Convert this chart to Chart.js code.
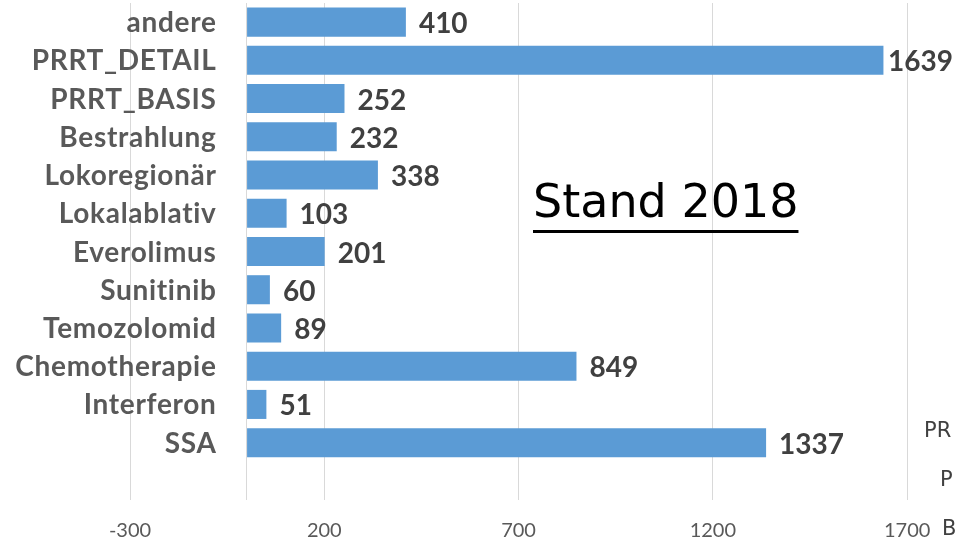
<!DOCTYPE html>
<html>
<head>
<meta charset="utf-8">
<script src="https://cdn.jsdelivr.net/npm/chart.js@4.4.1/dist/chart.umd.min.js"></script>
<style>
  html, body { margin: 0; padding: 0; background: #fff; }
  #wrap { position: relative; width: 955px; height: 543px; overflow: hidden; }
  .note { position: absolute; font-family: "DejaVu Sans", sans-serif; color: #404040; white-space: nowrap; }
  #stand { left: 533px; top: 174px; font-size: 46px; color: #000;
    text-decoration: underline; text-decoration-thickness: 3px; text-underline-offset: 13px; }
</style>
</head>
<body>
<div id="wrap">
  <canvas id="myChart" width="955" height="543"></canvas>
  <div class="note" id="stand">Stand 2018</div>
</div>
<script>
// categories from top to bottom, last slot is an empty row
const categories = ['andere', 'PRRT_DETAIL', 'PRRT_BASIS', 'Bestrahlung', 'Lokoregionär', 'Lokalablativ',
    'Everolimus', 'Sunitinib', 'Temozolomid', 'Chemotherapie', 'Interferon', 'SSA', '']
const counts = [410, 1639, 252, 232, 338, 103, 201, 60, 89, 849, 51, 1337, null]
const xTicks = [-300, 0, 200, 700, 1200, 1700]
const sideLabels = ['PR', 'P', 'B']

// category names sit left of the zero line (like Excel), values right of the bars
const barText = {
    id: 'barText',
    afterDatasetsDraw(chart) {
        const ctx = chart.ctx
        const yScale = chart.scales.y
        const x0 = chart.scales.x.getPixelForValue(0)
        const meta = chart.getDatasetMeta(0)
        ctx.save()
        ctx.textBaseline = 'middle'

        ctx.font = 'bold 28px Lato'
        ctx.letterSpacing = '0.7px'
        ctx.fillStyle = '#595959'
        ctx.textAlign = 'right'
        categories.forEach((c, i) => {
            ctx.fillText(c, x0 - 30, yScale.getPixelForValue(i) + 1)
        })

        ctx.letterSpacing = '0px'
        ctx.fillStyle = '#404040'
        ctx.textAlign = 'left'
        meta.data.forEach((bar, i) => {
            if (counts[i] == null) return
            const txt = String(counts[i])
            const w = ctx.measureText(txt).width
            let x = bar.x + 13
            if (x + w > chart.width - 2) x = chart.width - 2 - w
            ctx.fillText(txt, x, bar.y + 2)
        })

        // stray text cut off at the right edge
        ctx.font = '21px "DejaVu Sans"'
        ctx.fillText(sideLabels[0], 924, 432)
        ctx.fillText(sideLabels[1], 940, 481)
        ctx.fillText(sideLabels[2], 942, 530)
        ctx.restore()
    }
}

const config = {
    type: 'bar',
    data: {
        labels: categories,
        datasets: [{
            data: counts,
            backgroundColor: '#5B9BD5',
            barPercentage: 0.76,
            categoryPercentage: 1
        }]
    },
    options: {
        indexAxis: 'y',
        responsive: false,
        animation: false,
        layout: { padding: { left: 130, right: 9, top: 3, bottom: 0 } },
        plugins: { legend: { display: false }, tooltip: { enabled: false } },
        scales: {
            x: {
                min: -300,
                max: 1800,
                afterBuildTicks: (axis) => { axis.ticks = xTicks.map((v) => ({ value: v })) },
                afterFit: (axis) => { axis.height = 43 },
                grid: { color: '#d9d9d9', lineWidth: 1, drawTicks: false },
                border: { display: false },
                ticks: {
                    padding: 19,
                    color: '#595959',
                    font: { family: 'Lato', size: 20 },
                    maxRotation: 0,
                    autoSkip: false,
                    callback: (v) => (v === 0 ? '' : v)
                }
            },
            y: {
                display: false
            }
        }
    },
    plugins: [barText]
}

const chart = new Chart(document.querySelector('#myChart'), config)
</script>
</body>
</html>
